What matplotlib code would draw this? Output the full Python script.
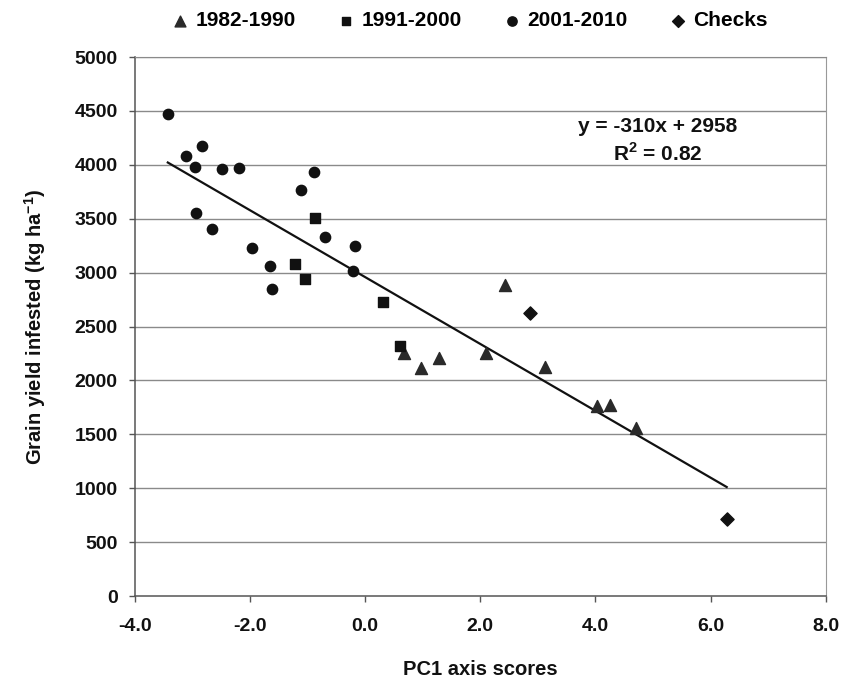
"""
Grain yield under infestation vs PC1 axis scores, grouped by release period.
"""

import matplotlib.pyplot as plt
import numpy as np

plt.rcParams['font.family'] = ['Liberation Sans', 'DejaVu Sans']
plt.rcParams['mathtext.fontset'] = 'custom'
plt.rcParams['mathtext.rm'] = 'Liberation Sans:bold'
plt.rcParams['mathtext.bf'] = 'Liberation Sans:bold'

# 1982-1990 (triangles)
pc1_8290 = [0.68, 0.97, 1.28, 2.09, 2.43, 3.12, 4.03, 4.25, 4.71]
yld_8290 = [2251, 2112, 2205, 2251, 2885, 2127, 1763, 1772, 1556]

# 1991-2000 (squares)
pc1_9100 = [-0.88, -1.22, -1.05, 0.31, 0.60]
yld_9100 = [3504, 3083, 2941, 2727, 2319]

# 2001-2010 (circles)
pc1_0110 = [-3.43, -3.11, -2.83, -2.95, -2.49, -2.20, -0.89, -1.11,
            -2.94, -2.66, -1.97, -1.65, -1.62, -0.70, -0.18, -0.22]
yld_0110 = [4471, 4082, 4174, 3977, 3961, 3968, 3930, 3763,
            3553, 3402, 3225, 3058, 2851, 3330, 3250, 3015]

# checks (diamonds)
pc1_chk = [2.86, 6.28]
yld_chk = [2622, 711]

# fitted trend
slope = -310
intercept = 2958
fit_range = [-3.43, 6.28]

x_ticks = [-4.0, -2.0, 0.0, 2.0, 4.0, 6.0, 8.0]
y_ticks = [0, 500, 1000, 1500, 2000, 2500, 3000, 3500, 4000, 4500, 5000]

fig = plt.figure(figsize=(8.41, 6.77), dpi=100)
ax = fig.add_axes([0.1605, 0.1196, 0.8213, 0.7962])

grid_col = '#8a8a8a'
for yv in y_ticks[1:]:
    ax.axhline(yv, color=grid_col, lw=1.0, zorder=1)

ax.scatter(pc1_8290, yld_8290, marker='^', s=75, color='#2a2a2a', zorder=3,
           label='1982-1990')
ax.scatter(pc1_9100, yld_9100, marker='s', s=50, color='#111111', zorder=3,
           label='1991-2000')
ax.scatter(pc1_0110, yld_0110, marker='o', s=55, color='#111111', zorder=3,
           label='2001-2010')
ax.scatter(pc1_chk, yld_chk, marker='D', s=45, color='#111111', zorder=3,
           label='Checks')

xf = np.array(fit_range)
ax.plot(xf, slope * xf + intercept, color='#111111', lw=1.6, zorder=2)

ax.text(5.08, 4220, 'y = -310x + 2958\n' + r'R$^{2}$ = 0.82',
        ha='center', va='center', fontsize=15, fontweight='bold',
        multialignment='center', linespacing=1.35, color='#111111')

ax.set_xlim(-4.0, 8.0)
ax.set_ylim(0, 5000)
ax.set_xticks(x_ticks)
ax.set_xticklabels([f'{v:.1f}' for v in x_ticks])
ax.set_yticks(y_ticks)
ax.tick_params(axis='both', direction='out', length=4.5, width=1,
               color='#555555', labelsize=14, labelcolor='#111111')
ax.tick_params(axis='x', pad=11)
ax.tick_params(axis='y', pad=8)
for lbl in ax.get_xticklabels() + ax.get_yticklabels():
    lbl.set_fontweight('bold')

for side in ['left', 'bottom']:
    ax.spines[side].set_color('#555555')
    ax.spines[side].set_linewidth(1.1)
ax.spines['right'].set_color('#999999')
ax.spines['top'].set_color(grid_col)

ax.set_xlabel('PC1 axis scores', fontsize=14.5, fontweight='bold',
              labelpad=18, color='#111111')
ax.set_ylabel(r'Grain yield infested (kg ha$^{\mathbf{-1}}$)', fontsize=14.5,
              fontweight='bold', labelpad=19, color='#111111')

fig.legend(loc='center', bbox_to_anchor=(0.5595, 0.969), ncol=4,
           frameon=False, markerscale=0.9, handletextpad=0.4,
           columnspacing=2.1, handlelength=0.65, borderpad=0,
           prop={'weight': 'bold', 'size': 15})

fig.savefig('out.png', dpi=100)
